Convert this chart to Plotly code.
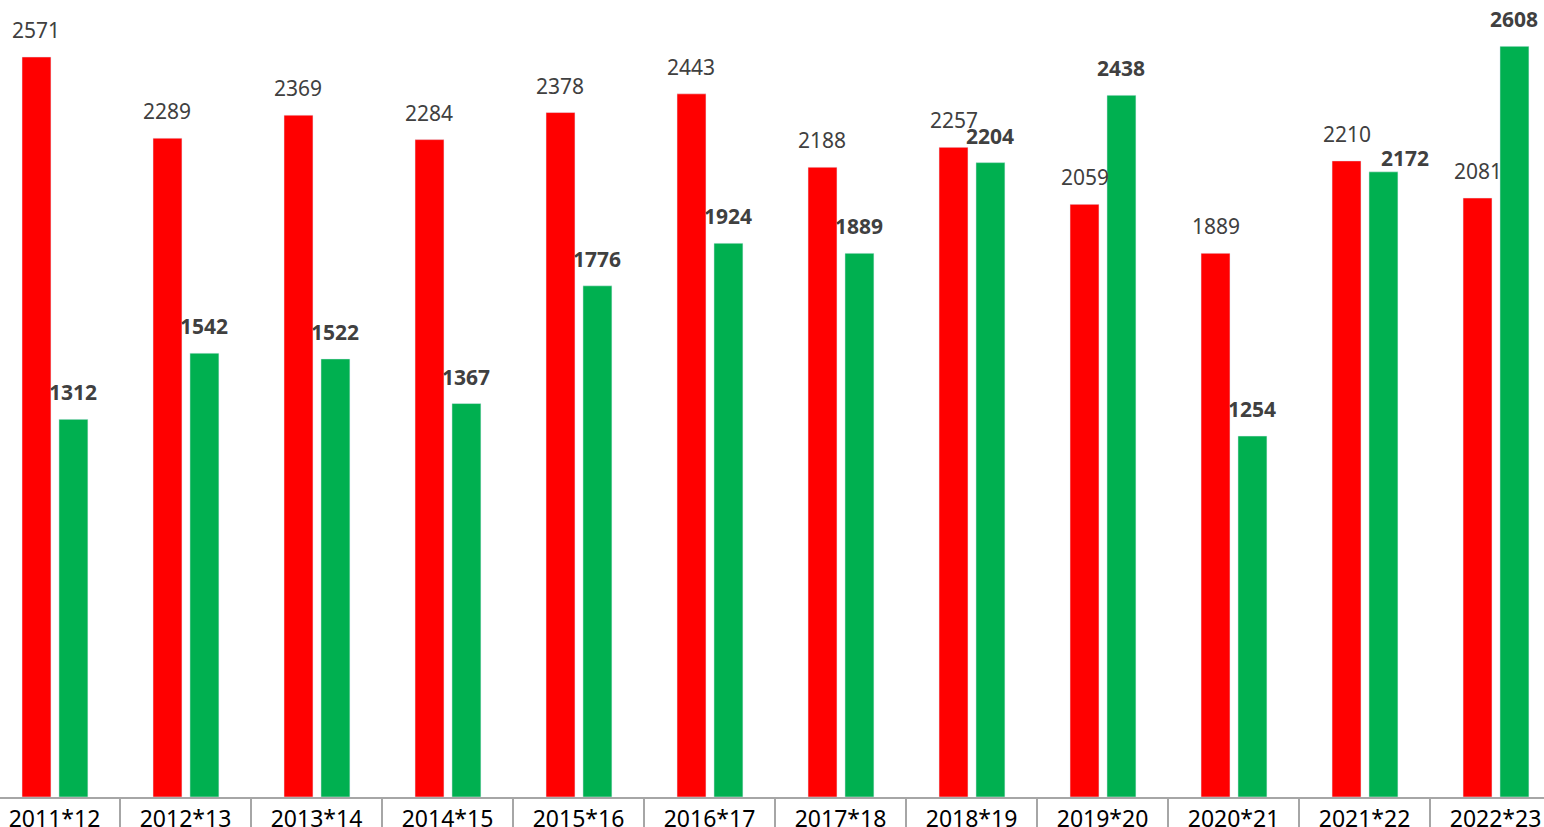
import plotly.graph_objects as go

categories = ["2011*12", "2012*13", "2013*14", "2014*15", "2015*16", "2016*17",
              "2017*18", "2018*19", "2019*20", "2020*21", "2021*22", "2022*23"]
red_values = [2571, 2289, 2369, 2284, 2378, 2443, 2188, 2257, 2059, 1889, 2210, 2081]
green_values = [1312, 1542, 1522, 1367, 1776, 1924, 1889, 2204, 2438, 1254, 2172, 2608]

RED = "#FF0000"
GREEN = "#00B050"
LABEL = "#404040"
FONT = "Noto Sans"

BAR_W = 0.221
RED_OFF = -0.248
GREEN_OFF = 0.034
PX_PER_UNIT = 131.0
LABEL_LIFT = 11
# manual label nudges (pixels) for labels moved in the original chart
GREEN_NUDGE = {"2021*22": (22, -13)}

fig = go.Figure()
fig.add_trace(go.Bar(x=categories, y=red_values, marker_color=RED,
                     width=BAR_W, offset=RED_OFF, showlegend=False, hoverinfo="x+y"))
fig.add_trace(go.Bar(x=categories, y=green_values, marker_color=GREEN,
                     width=BAR_W, offset=GREEN_OFF, showlegend=False, hoverinfo="x+y"))

for cat, rv, gv in zip(categories, red_values, green_values):
    fig.add_annotation(x=cat, y=rv, text=str(rv), showarrow=False,
                       xanchor="center", yanchor="bottom",
                       xshift=(RED_OFF + BAR_W / 2) * PX_PER_UNIT, yshift=LABEL_LIFT,
                       font=dict(family=FONT, size=21, color=LABEL))
    nx, ny = GREEN_NUDGE.get(cat, (0, 0))
    fig.add_annotation(x=cat, y=gv, text="<b>" + str(gv) + "</b>", showarrow=False,
                       xanchor="center", yanchor="bottom",
                       xshift=(GREEN_OFF + BAR_W / 2) * PX_PER_UNIT + nx,
                       yshift=LABEL_LIFT + ny,
                       font=dict(family=FONT, size=21, color=LABEL))

fig.update_layout(
    width=1544, height=827,
    margin=dict(l=0, r=0, t=0, b=30, autoexpand=False),
    paper_bgcolor="white", plot_bgcolor="white",
    barmode="overlay",
    xaxis=dict(
        type="category",
        range=[-0.416, 11.37],
        automargin=False,
        showgrid=False, zeroline=False,
        showline=True, linecolor="#A6A6A6", linewidth=1.5,
        ticks="outside", tickson="boundaries", ticklen=30,
        tickcolor="#A6A6A6", tickwidth=1.5,
        ticklabelstandoff=1,
        tickfont=dict(family=FONT, size=23, color="#000000"),
    ),
    yaxis=dict(range=[0, 2769], visible=False, showgrid=False, zeroline=False,
               automargin=False),
)

fig.write_html("out.html", config={"displayModeBar": False},
               post_script="document.body.style.margin='0';document.body.style.overflow='hidden';")
